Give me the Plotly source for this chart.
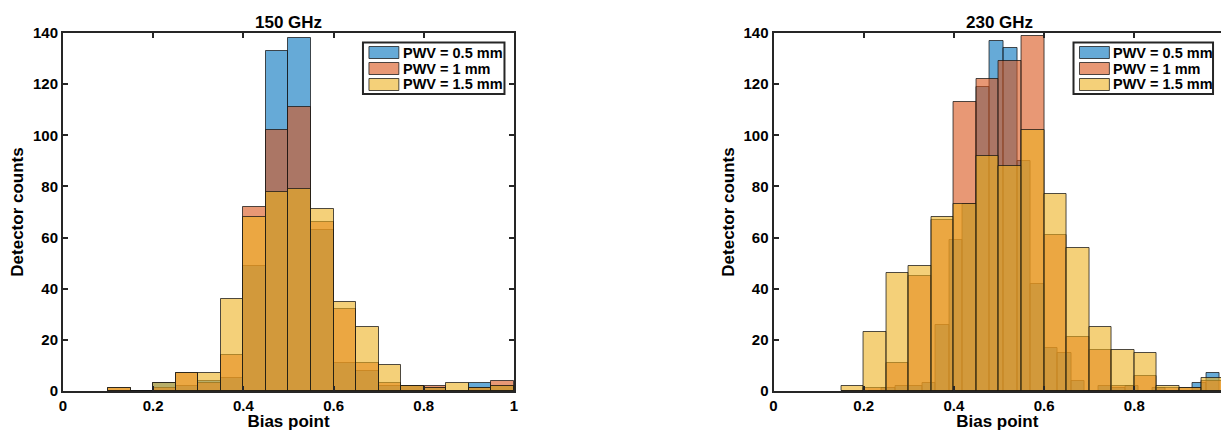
import plotly.graph_objects as go

# ---------------- data ----------------
series_names = ["PWV = 0.5 mm", "PWV = 1 mm", "PWV = 1.5 mm"]

# 150 GHz: all series use 0.05-wide bins (left edges)
bins_150 = [0.10, 0.15, 0.20, 0.25, 0.30, 0.35, 0.40, 0.45, 0.50,
            0.55, 0.60, 0.65, 0.70, 0.75, 0.80, 0.85, 0.90, 0.95]
binw_150 = 0.05
pwv05_150 = [0, 0, 3, 2, 4, 5, 49, 133, 138, 63, 11, 8, 2, 2, 1, 0, 3, 2]
pwv10_150 = [1, 0, 1, 7, 3, 14, 72, 102, 111, 66, 32, 11, 3, 2, 2, 0, 1, 4]
pwv15_150 = [1, 0, 3, 7, 7, 36, 68, 78, 79, 71, 35, 25, 10, 2, 1, 3, 1, 2]

# 230 GHz: PWV = 0.5 mm uses 0.03-wide bins, others 0.05-wide bins
bins_230_a = [0.21, 0.24, 0.27, 0.30, 0.33, 0.36, 0.39, 0.42, 0.45, 0.48, 0.51,
              0.54, 0.57, 0.60, 0.63, 0.66, 0.69, 0.72, 0.75, 0.78, 0.81, 0.84,
              0.87, 0.90, 0.93, 0.96]
binw_230_a = 0.03
pwv05_230 = [0, 1, 2, 2, 3, 26, 59, 73, 119, 137, 134, 90, 42, 17, 15, 4, 0,
             2, 1, 2, 0, 1, 0, 0, 3, 7]
bins_230_b = [0.15, 0.20, 0.25, 0.30, 0.35, 0.40, 0.45, 0.50, 0.55, 0.60,
              0.65, 0.70, 0.75, 0.80, 0.85, 0.90, 0.95]
binw_230_b = 0.05
pwv10_230 = [0, 1, 11, 45, 67, 113, 122, 129, 139, 61, 21, 16, 2, 6, 1, 1, 4]
pwv15_230 = [2, 23, 46, 49, 68, 73, 92, 88, 102, 77, 56, 25, 16, 15, 2, 1, 5]

x_ticks = [0, 0.2, 0.4, 0.6, 0.8, 1]
y_ticks = [0, 20, 40, 60, 80, 100, 120, 140]
panel_titles = ["150 GHz", "230 GHz"]

# ---------------- style ----------------
fills = ["rgba(0,114,189,0.6)", "rgba(217,83,25,0.6)", "rgba(237,177,32,0.6)"]
edge = "rgba(20,20,20,0.75)"
FONT = "Liberation Sans, Arial, Helvetica, sans-serif"
AX = "#262626"

fig = go.Figure()

def add_hist(edges, width, counts, idx, xa, ya):
    fig.add_trace(go.Bar(
        x=edges, y=counts, width=width, offset=0,
        name=series_names[idx],
        marker=dict(color=fills[idx], line=dict(color=edge, width=1)),
        xaxis=xa, yaxis=ya, showlegend=False,
        hoverinfo="name+x+y",
    ))

add_hist(bins_150, binw_150, pwv05_150, 0, "x", "y")
add_hist(bins_150, binw_150, pwv10_150, 1, "x", "y")
add_hist(bins_150, binw_150, pwv15_150, 2, "x", "y")

add_hist(bins_230_a, binw_230_a, pwv05_230, 0, "x2", "y2")
add_hist(bins_230_b, binw_230_b, pwv10_230, 1, "x2", "y2")
add_hist(bins_230_b, binw_230_b, pwv15_230, 2, "x2", "y2")

W, H = 1225, 431
L, R, T, B = 63, 0, 33, 40
pw = W - L - R
ph = H - T - B
px_per_unit = 452.5
left_x0, right_x0 = 63, 776

def px(xpix):
    return (xpix - L) / pw

def py(ypix):
    return (H - B - ypix) / ph

tickfont = dict(family=FONT, size=15, color="#000000", weight="bold")
titlefont = dict(family=FONT, size=17, color="#000000", weight="bold")

def xaxis_cfg(domain, rng, anchor):
    return dict(domain=domain, range=rng, anchor=anchor, tickvals=x_ticks,
                ticks="inside", ticklen=5, tickwidth=1.5, tickcolor=AX,
                showline=True, linewidth=2, linecolor=AX, mirror="ticks",
                showgrid=False, zeroline=False, tickfont=tickfont,
                title=dict(text="Bias point", font=titlefont, standoff=1))

def yaxis_cfg(anchor, mirror):
    return dict(domain=[0, 1], range=[0, 140], anchor=anchor, tickvals=y_ticks,
                ticks="inside", ticklen=5, tickwidth=1.5, tickcolor=AX,
                showline=True, linewidth=2, linecolor=AX, mirror=mirror,
                showgrid=False, zeroline=False, tickfont=tickfont,
                title=dict(text="Detector counts", font=titlefont, standoff=5))

right_range_end = (W - right_x0) / px_per_unit

# ---------- legends drawn as boxes + swatches + text ----------
shapes = []
annotations = []
legend_boxes = [(364, 506), (1077, 1217)]   # pixel extents of each legend box
legend_top, legend_bottom = 42.5, 94
row_centers = [52.5, 68.5, 84.5]
for (bx0, bx1) in legend_boxes:
    shapes.append(dict(type="rect", xref="paper", yref="paper",
                       x0=px(bx0), x1=px(bx1), y0=py(legend_bottom), y1=py(legend_top),
                       line=dict(color=AX, width=2), fillcolor="white", layer="above"))
    for i, name in enumerate(series_names):
        cy = row_centers[i]
        shapes.append(dict(type="rect", xref="paper", yref="paper",
                           x0=px(bx0 + 6), x1=px(bx0 + 36),
                           y0=py(cy + 6), y1=py(cy - 6),
                           line=dict(color=edge, width=1), fillcolor=fills[i],
                           layer="above"))
        annotations.append(dict(text=name, xref="paper", yref="paper",
                                x=px(bx0 + 38), y=py(cy), xanchor="left",
                                yanchor="middle", showarrow=False,
                                font=dict(family=FONT, size=14.5, color="#000000",
                                          weight="bold")))

for k, xr in enumerate(["x", "x2"]):
    annotations.append(dict(text=panel_titles[k], xref=xr, x=0.5, yref="paper", y=1,
                            yanchor="bottom", xanchor="center", showarrow=False,
                            yshift=-1,
                            font=dict(family=FONT, size=17, color="#000000",
                                      weight="bold")))

fig.update_layout(
    width=W, height=H,
    margin=dict(l=L, r=R, t=T, b=B, pad=0),
    paper_bgcolor="white", plot_bgcolor="white",
    barmode="overlay", bargap=0,
    xaxis=xaxis_cfg([0, px(left_x0 + px_per_unit)], [0, 1], "y"),
    yaxis=yaxis_cfg("x", "ticks"),
    xaxis2=xaxis_cfg([px(right_x0), 1], [0, right_range_end], "y2"),
    yaxis2=yaxis_cfg("x2", False),
    shapes=shapes,
    annotations=annotations,
    showlegend=False,
)

fig.write_html("out.html")
